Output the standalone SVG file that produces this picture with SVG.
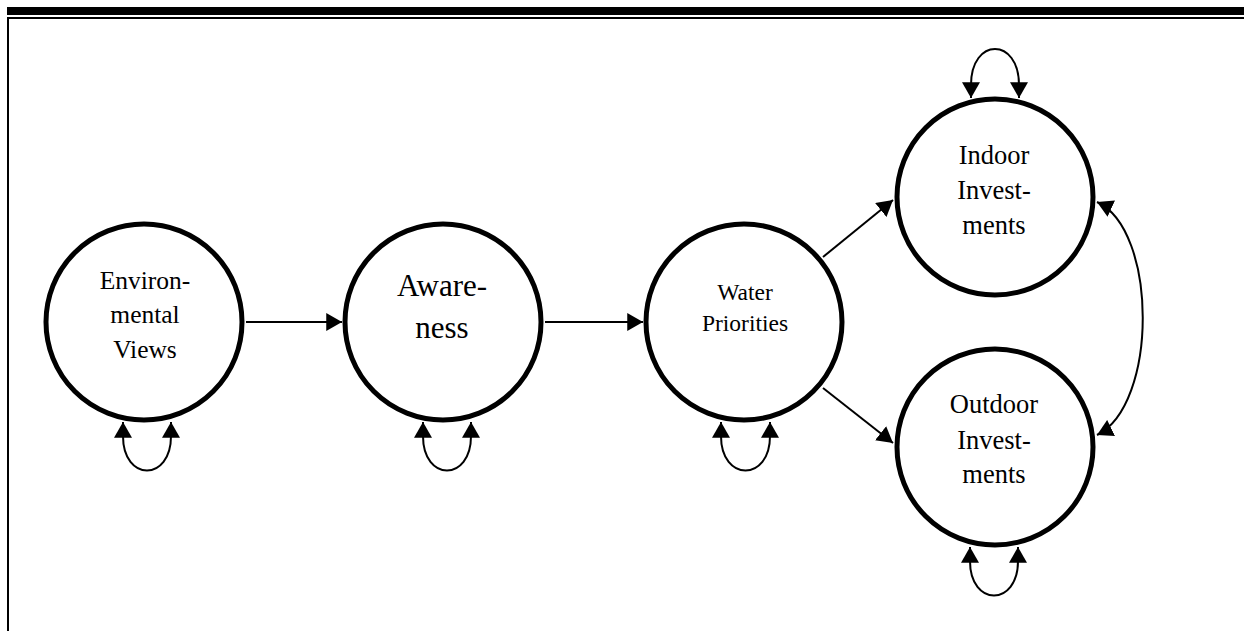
<svg xmlns="http://www.w3.org/2000/svg" width="1244" height="631" viewBox="0 0 1244 631">
  <style>
    .node { fill: #ffffff; stroke: #000000; stroke-width: 5; }
    .lbl { font-family: "Liberation Serif", "Times New Roman", serif; fill: #000000; text-anchor: middle; }
    .edge { fill: none; stroke: #000000; stroke-width: 2; marker-end: url(#arrow); }
    .both { marker-start: url(#arrowStart); }
  </style>
  <defs>
    <marker id="arrow" markerUnits="userSpaceOnUse" markerWidth="16" markerHeight="18" viewBox="0 0 14 16" refX="14" refY="8" orient="auto">
      <path d="M0,0 L14,8 L0,16 Z" fill="#000000"/>
    </marker>
    <marker id="arrowStart" markerUnits="userSpaceOnUse" markerWidth="16" markerHeight="18" viewBox="0 0 14 16" refX="14" refY="8" orient="auto-start-reverse">
      <path d="M0,0 L14,8 L0,16 Z" fill="#000000"/>
    </marker>
  </defs>

  <rect width="1244" height="631" fill="#ffffff"/>

  <!-- page frame: heavy top rule, thin rule beneath, left edge -->
  <g id="frame" fill="#000000">
    <rect x="7" y="7" width="1237" height="8"/>
    <rect x="7" y="17" width="1237" height="2"/>
    <rect x="7" y="17" width="2" height="614"/>
  </g>

  <g id="connectors">
    <line class="edge" x1="246" y1="322" x2="342" y2="322"/>
    <line class="edge" x1="545" y1="322" x2="643" y2="322"/>
    <line class="edge" x1="823" y1="257" x2="893" y2="200"/>
    <line class="edge" x1="823" y1="388" x2="893" y2="443"/>
    <path class="edge both" d="M1097,202 C1158,230 1158,405 1097,435"/>
    <!-- self loops -->
    <path class="edge both" d="M123,422 L123,436 C123,482 171,482 171,436 L171,422"/>
    <path class="edge both" d="M423,422 L423,436 C423,482 471,482 471,436 L471,422"/>
    <path class="edge both" d="M721,422 L721,436 C721,482 770,482 770,436 L770,422"/>
    <path class="edge both" d="M971,98 L971,85 C971,37 1019,37 1019,85 L1019,98"/>
    <path class="edge both" d="M970,547 L970,561 C970,607 1018,607 1018,561 L1018,547"/>
  </g>

  <g id="environmental-views">
    <circle class="node" cx="144" cy="322" r="98"/>
    <text class="lbl" font-size="25.5"><tspan x="145" y="289">Environ-</tspan><tspan x="145" y="323">mental</tspan><tspan x="145" y="358">Views</tspan></text>
  </g>

  <g id="awareness">
    <circle class="node" cx="443" cy="322" r="98"/>
    <text class="lbl" font-size="31"><tspan x="442" y="296">Aware-</tspan><tspan x="442" y="338">ness</tspan></text>
  </g>

  <g id="water-priorities">
    <circle class="node" cx="744" cy="322" r="98"/>
    <text class="lbl" font-size="23.5"><tspan x="745" y="300">Water</tspan><tspan x="745" y="331">Priorities</tspan></text>
  </g>

  <g id="indoor-investments">
    <circle class="node" cx="995" cy="197" r="98"/>
    <text class="lbl" font-size="26.5"><tspan x="994" y="164">Indoor</tspan><tspan x="994" y="199">Invest-</tspan><tspan x="994" y="234">ments</tspan></text>
  </g>

  <g id="outdoor-investments">
    <circle class="node" cx="995" cy="447" r="98"/>
    <text class="lbl" font-size="26.5"><tspan x="994" y="413">Outdoor</tspan><tspan x="994" y="449">Invest-</tspan><tspan x="994" y="483">ments</tspan></text>
  </g>
</svg>
